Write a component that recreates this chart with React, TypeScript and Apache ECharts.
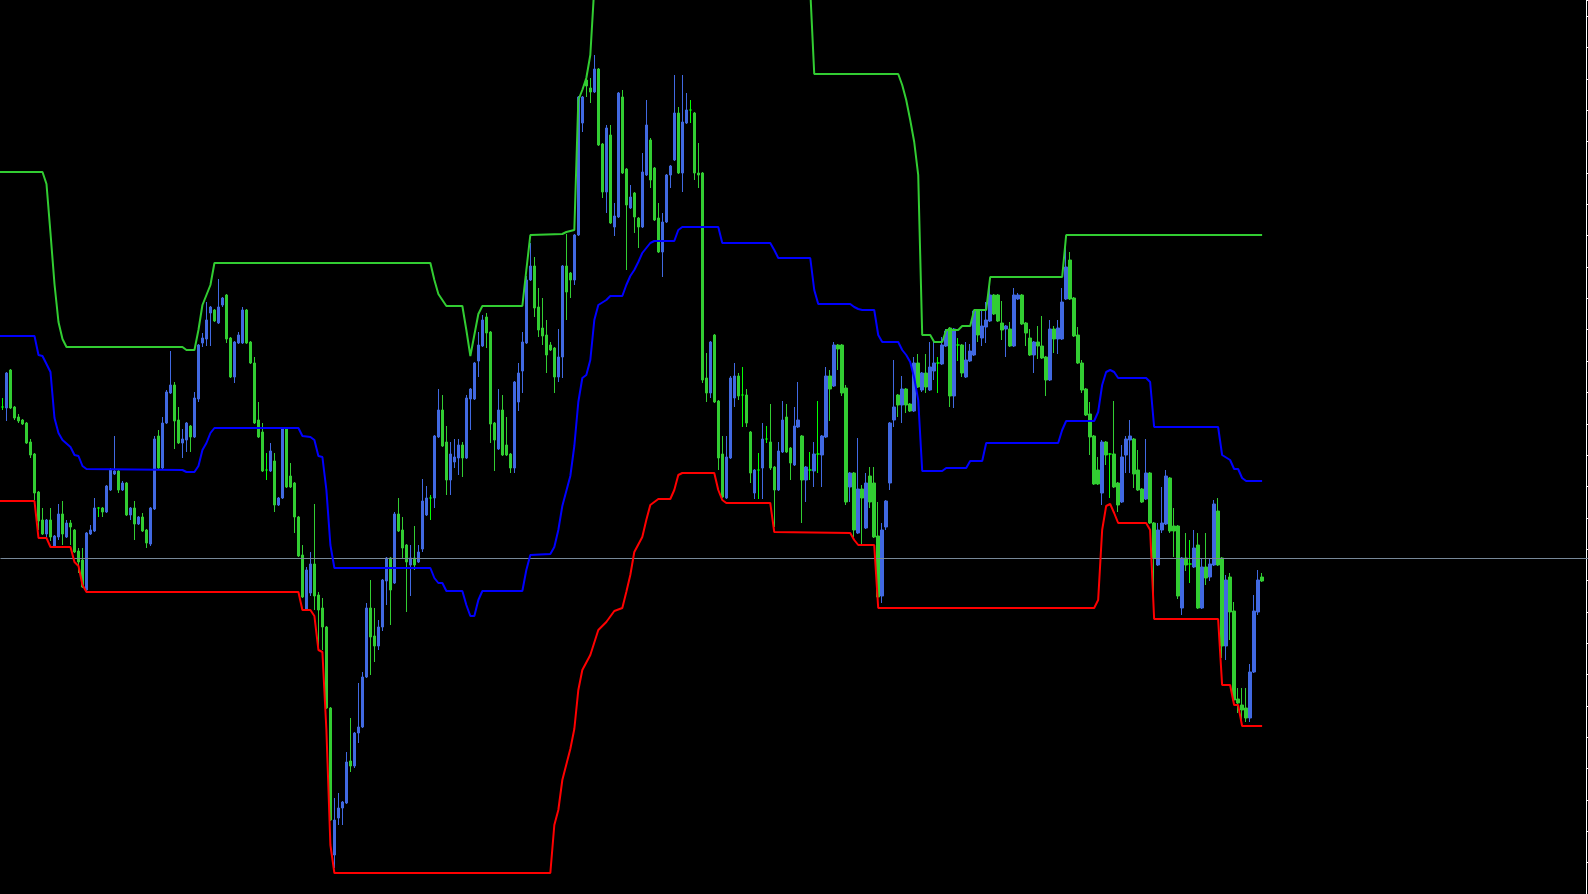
import React, { useEffect, useRef } from "react";
import * as echarts from "echarts";

// Bar prices (points above chart bottom), bar 0..315
const opens = [
  487, 486, 524, 487, 477, 474, 471, 452, 440, 402,
  374, 360, 374, 348, 357, 380, 357, 371, 364, 343,
  334, 304, 360, 363, 386, 386, 382, 404, 420, 423,
  404, 411, 379, 386, 370, 377, 364, 350, 385, 458,
  426, 471, 501, 509, 474, 451, 454, 468, 457, 495,
  551, 555, 581, 584, 571, 589, 599, 556, 517, 551,
  551, 584, 552, 531, 474, 462, 424, 423, 433, 389,
  396, 465, 418, 411, 377, 339, 284, 301, 330, 299,
  286, 267, 186, 39, 76, 86, 91, 133, 128, 161,
  167, 217, 286, 258, 248, 267, 313, 336, 311, 380,
  364, 349, 329, 336, 332, 345, 379, 396, 396, 457,
  484, 452, 414, 432, 436, 449, 436, 495, 495, 533,
  548, 577, 562, 471, 445, 484, 449, 440, 426, 492,
  523, 551, 614, 628, 587, 566, 559, 549, 546, 517,
  537, 628, 621, 614, 659, 771, 814, 806, 802, 825,
  750, 702, 759, 667, 677, 797, 725, 686, 701, 676,
  667, 719, 754, 726, 676, 642, 672, 719, 734, 781,
  721, 771, 784, 781, 721, 721, 516, 501, 559, 493,
  440, 396, 436, 496, 518, 499, 499, 462, 401, 424,
  426, 455, 452, 427, 404, 442, 477, 446, 429, 467,
  458, 414, 424, 423, 440, 439, 457, 518, 508, 549,
  549, 506, 407, 421, 361, 405, 366, 418, 411, 358,
  298, 367, 411, 474, 499, 489, 505, 490, 483, 531,
  504, 521, 504, 523, 531, 530, 548, 566, 498, 549,
  549, 517, 533, 539, 583, 556, 567, 573, 599, 599,
  571, 565, 565, 548, 595, 599, 571, 556, 539, 552,
  548, 537, 514, 565, 555, 555, 595, 634, 596, 559,
  531, 505, 480, 458, 424, 401, 452, 440, 440, 411,
  392, 439, 454, 455, 424, 405, 395, 421, 371, 329,
  364, 370, 416, 368, 368, 286, 336, 330, 327, 349,
  286, 327, 317, 329, 383, 336, 248, 317, 283, 195,
  189, 186, 176, 222, 282, 317,
];

const closes = [
  487, 521, 486, 476, 473, 470, 451, 439, 401, 373,
  360, 374, 357, 358, 380, 360, 371, 367, 342, 332,
  307, 361, 364, 386, 386, 382, 408, 424, 423, 404,
  411, 379, 386, 370, 377, 363, 351, 386, 455, 426,
  471, 502, 509, 473, 451, 455, 471, 457, 496, 549,
  556, 574, 587, 573, 587, 596, 555, 517, 552, 559,
  584, 551, 531, 471, 457, 423, 424, 443, 389, 396,
  465, 407, 407, 377, 338, 297, 324, 330, 298, 284,
  267, 186, 74, 74, 86, 92, 132, 128, 161, 167,
  217, 286, 257, 248, 267, 314, 336, 304, 380, 363,
  346, 332, 336, 329, 342, 393, 396, 396, 458, 484,
  448, 414, 440, 437, 449, 436, 496, 505, 531, 549,
  574, 561, 470, 454, 484, 439, 439, 426, 512, 521,
  552, 614, 628, 586, 564, 558, 539, 544, 517, 537,
  628, 602, 614, 659, 797, 797, 808, 802, 825, 749,
  702, 766, 671, 678, 801, 721, 689, 697, 677, 667,
  722, 769, 714, 674, 642, 672, 719, 728, 781, 721,
  772, 784, 784, 721, 719, 514, 501, 552, 492, 436,
  397, 437, 516, 518, 498, 499, 471, 421, 424, 424,
  455, 455, 426, 404, 443, 474, 442, 431, 468, 474,
  414, 427, 424, 440, 440, 458, 518, 505, 549, 545,
  501, 392, 421, 364, 405, 396, 411, 392, 357, 297,
  364, 393, 471, 487, 489, 505, 489, 483, 531, 507,
  521, 507, 527, 531, 531, 549, 563, 498, 565, 549,
  521, 534, 543, 583, 559, 568, 574, 599, 580, 573,
  564, 568, 548, 599, 599, 570, 561, 539, 552, 548,
  536, 514, 565, 555, 566, 592, 627, 595, 558, 531,
  504, 479, 457, 410, 410, 452, 439, 440, 407, 389,
  437, 455, 458, 420, 404, 392, 421, 371, 336, 364,
  371, 418, 363, 363, 298, 336, 329, 330, 346, 286,
  327, 316, 330, 390, 329, 248, 314, 282, 194, 191,
  184, 176, 222, 283, 314, 313,
];

const lows = [
  484, 473, 485, 474, 471, 469, 450, 436, 394, 364,
  359, 357, 353, 347, 354, 349, 356, 349, 341, 321,
  306, 303, 359, 362, 377, 377, 381, 403, 419, 401,
  403, 378, 374, 354, 369, 362, 346, 348, 384, 425,
  425, 470, 500, 445, 450, 436, 442, 442, 456, 492,
  547, 548, 548, 572, 570, 587, 551, 516, 511, 550,
  550, 550, 530, 470, 456, 422, 414, 422, 382, 388,
  395, 406, 406, 361, 337, 296, 283, 298, 284, 247,
  244, 185, 73, 26, 69, 69, 90, 122, 126, 151,
  166, 216, 219, 232, 244, 263, 289, 269, 310, 362,
  336, 282, 298, 324, 331, 342, 378, 374, 386, 456,
  447, 399, 399, 426, 419, 417, 435, 464, 494, 517,
  547, 546, 451, 423, 444, 438, 438, 421, 421, 483,
  501, 550, 613, 577, 557, 549, 521, 543, 501, 512,
  516, 574, 596, 609, 658, 762, 797, 791, 801, 748,
  696, 681, 670, 658, 676, 720, 624, 685, 661, 646,
  666, 718, 706, 673, 641, 617, 671, 706, 733, 720,
  702, 770, 771, 714, 706, 511, 492, 496, 491, 424,
  396, 395, 435, 487, 494, 467, 467, 411, 395, 395,
  395, 451, 424, 367, 403, 441, 441, 414, 428, 466,
  371, 392, 414, 407, 421, 407, 456, 473, 507, 524,
  498, 389, 392, 357, 360, 349, 365, 386, 356, 296,
  291, 364, 404, 467, 477, 471, 481, 482, 482, 506,
  502, 501, 503, 514, 501, 529, 547, 487, 486, 533,
  517, 516, 532, 538, 552, 548, 551, 572, 579, 572,
  554, 537, 547, 547, 594, 569, 548, 538, 521, 535,
  535, 498, 513, 541, 540, 554, 594, 594, 557, 530,
  501, 478, 439, 409, 409, 389, 429, 396, 406, 382,
  391, 421, 421, 406, 403, 391, 394, 370, 298, 328,
  361, 369, 361, 337, 295, 279, 323, 311, 326, 285,
  285, 309, 313, 328, 328, 236, 234, 254, 193, 181,
  172, 172, 172, 221, 279, 312,
];

const highs = [
  496, 522, 525, 488, 480, 475, 472, 455, 441, 403,
  386, 375, 386, 359, 390, 393, 374, 374, 365, 346,
  346, 362, 369, 396, 387, 387, 409, 426, 458, 424,
  413, 412, 387, 393, 378, 381, 365, 387, 458, 464,
  477, 504, 543, 512, 487, 465, 472, 469, 502, 550,
  561, 592, 588, 585, 615, 597, 600, 557, 553, 562,
  587, 585, 553, 537, 492, 471, 441, 451, 441, 397,
  466, 466, 431, 412, 378, 349, 327, 342, 390, 302,
  296, 268, 187, 96, 101, 93, 142, 176, 162, 211,
  222, 291, 314, 286, 274, 315, 337, 337, 382, 396,
  377, 350, 349, 368, 349, 415, 408, 399, 459, 505,
  499, 468, 452, 455, 455, 452, 499, 506, 532, 562,
  579, 581, 563, 472, 505, 499, 477, 441, 513, 531,
  562, 618, 651, 637, 606, 596, 574, 552, 547, 565,
  629, 660, 622, 660, 798, 798, 817, 816, 839, 826,
  751, 769, 769, 691, 802, 804, 726, 709, 702, 677,
  741, 794, 756, 727, 691, 681, 720, 729, 819, 787,
  819, 801, 794, 782, 751, 722, 541, 553, 560, 494,
  458, 458, 518, 531, 521, 527, 505, 463, 425, 441,
  471, 468, 490, 428, 452, 493, 490, 447, 487, 512,
  459, 428, 442, 452, 493, 459, 527, 524, 552, 550,
  550, 509, 422, 422, 456, 409, 421, 427, 427, 392,
  371, 394, 472, 534, 500, 518, 506, 491, 537, 540,
  522, 540, 552, 552, 537, 557, 565, 567, 566, 556,
  550, 552, 550, 584, 584, 583, 592, 609, 600, 600,
  593, 569, 572, 606, 601, 600, 572, 565, 553, 568,
  578, 538, 574, 568, 574, 606, 649, 642, 597, 567,
  534, 506, 492, 459, 437, 454, 453, 441, 493, 412,
  449, 458, 474, 456, 444, 406, 455, 422, 372, 371,
  407, 424, 417, 386, 369, 337, 361, 354, 364, 361,
  336, 361, 336, 394, 396, 337, 319, 321, 292, 206,
  206, 206, 230, 299, 324, 321,
];

// Channel lines: [bar index, price] at each turning point (index -1 = bar just off the left edge)
const upperBand = [
  [-1, 722], [0, 722], [10, 722], [11, 710], [12, 661], [13, 610], [14, 572], [15, 555], [16, 547],
  [45, 547], [46, 544], [48, 544], [49, 564], [50, 589], [51, 599], [52, 609], [53, 631],
  [107, 631], [108, 614], [109, 600], [110, 594], [111, 588], [115, 588], [116, 564],
  [117, 538], [118, 559], [119, 580], [120, 588], [130, 588], [131, 624], [132, 659],
  [140, 660], [141, 662], [143, 664], [144, 794], [145, 804], [146, 816], [147, 839],
  [148, 907], [150, 914], [160, 924], [170, 914], [180, 904], [190, 909], [202, 904],
  [203, 820], [224, 820], [225, 809], [226, 794], [227, 774], [228, 752], [229, 719],
  [230, 559], [232, 559], [233, 552], [235, 552], [236, 564], [239, 564], [240, 568],
  [242, 568], [243, 584], [246, 584], [247, 617], [265, 617], [266, 659], [315, 659],
];

const middleBand = [
  [-1, 558], [0, 558], [8, 558], [9, 539], [10, 538], [11, 530], [12, 522], [13, 476], [14, 461],
  [15, 454], [17, 447], [18, 439], [19, 438], [20, 428], [21, 425], [45, 424], [46, 422],
  [48, 422], [49, 428], [50, 444], [51, 451], [52, 461], [53, 466], [74, 466], [75, 458],
  [77, 457], [78, 454], [79, 438], [80, 437], [81, 404], [82, 349], [83, 326], [107, 326],
  [108, 316], [109, 311], [110, 311], [111, 303], [115, 303], [116, 289], [117, 278],
  [118, 278], [119, 294], [120, 303], [130, 303], [131, 324], [132, 339], [137, 340],
  [138, 347], [139, 364], [140, 388], [142, 418], [143, 448], [144, 492], [145, 516],
  [146, 519], [147, 534], [148, 574], [149, 589], [151, 594], [152, 598], [155, 598],
  [156, 609], [157, 618], [158, 624], [159, 632], [160, 641], [161, 646], [162, 651],
  [163, 653], [168, 653], [169, 664], [170, 667], [179, 667], [180, 651], [192, 651],
  [193, 644], [194, 636], [202, 636], [203, 604], [204, 590], [212, 590], [213, 587],
  [214, 585], [215, 584], [218, 584], [219, 559], [220, 552], [224, 552], [225, 544],
  [226, 539], [227, 532], [228, 516], [229, 494], [230, 423], [235, 423], [236, 426],
  [241, 426], [242, 433], [245, 433], [246, 451], [264, 451], [265, 464], [266, 473],
  [273, 473], [274, 482], [275, 509], [276, 522], [277, 524], [278, 522], [279, 516],
  [286, 516], [287, 512], [288, 467], [304, 467], [305, 439], [307, 434], [308, 425],
  [309, 425], [310, 416], [311, 413], [315, 413],
];

const lowerBand = [
  [-1, 393], [0, 393], [8, 393], [9, 356], [11, 356], [12, 347], [17, 347], [18, 332], [19, 328],
  [20, 309], [21, 302], [74, 302], [75, 284], [77, 284], [78, 278], [79, 244], [80, 242],
  [81, 164], [82, 49], [83, 21], [137, 21], [138, 69], [139, 84], [140, 114], [142, 145],
  [143, 165], [144, 204], [145, 224], [147, 239], [149, 264], [151, 272], [153, 283],
  [155, 286], [156, 302], [157, 319], [158, 342], [160, 357], [161, 374], [162, 389],
  [164, 395], [167, 395], [168, 404], [169, 419], [170, 421], [178, 421], [179, 404],
  [180, 394], [181, 391], [192, 391], [193, 362], [212, 361], [213, 354], [214, 349],
  [218, 349], [219, 286], [273, 286], [274, 294], [275, 364], [276, 388], [277, 390],
  [278, 381], [279, 371], [286, 371], [287, 364], [288, 275], [304, 275], [305, 209],
  [307, 209], [308, 189], [309, 189], [310, 168], [315, 168],
];

const bidPrice = 335.5;
const slotCount = 397; // bar slots across the window (incl. empty right margin)
const priceMin = 0;
const priceMax = 894;
const priceStep = 31.35;

export default function App() {
  const ref = useRef<HTMLDivElement>(null);

  useEffect(() => {
    document.body.style.margin = "0";
    document.body.style.background = "#000000";
    const el = ref.current;
    if (!el) return;
    const chart = echarts.init(el, null, { renderer: "svg" });
    const categories = Array.from({ length: slotCount }, (_, i) => String(i));
    const candles = opens.map((o, i) => [o, closes[i], lows[i], highs[i]]);

    const bandLine = (name: string, data: number[][], color: string) => ({
      name,
      type: "line",
      data,
      showSymbol: false,
      symbol: "none",
      silent: true,
      z: 5,
      clip: true,
      lineStyle: { color, width: 2 },
    });

    chart.setOption({
      animation: false,
      backgroundColor: "#000000",
      grid: { left: 0.5, top: 0, width: 1588, height: 894, containLabel: false },
      xAxis: {
        type: "category",
        data: categories,
        boundaryGap: true,
        show: false,
      },
      yAxis: {
        type: "value",
        position: "right",
        offset: -2,
        min: priceMin,
        max: priceMax,
        interval: priceStep,
        splitLine: { show: false },
        axisLabel: { show: false },
        axisLine: { show: true, lineStyle: { color: "#ffffff", width: 1 } },
        axisTick: { show: true, inside: false, length: 3, lineStyle: { color: "#ffffff", width: 1 } },
      },
      series: [
        {
          name: "Price",
          type: "candlestick",
          data: candles,
          barWidth: 3,
          silent: true,
          z: 2,
          itemStyle: {
            color: "#4169E1",
            color0: "#32CD32",
            borderColor: "#4169E1",
            borderColor0: "#32CD32",
            borderColorDoji: "#00FF00",
            borderWidth: 1,
          },
          markLine: {
            silent: true,
            symbol: ["none", "none"],
            label: { show: false },
            lineStyle: { color: "#778899", width: 1, type: "solid" },
            data: [{ yAxis: bidPrice }],
          },
        },
        bandLine("Upper", upperBand, "#32CD32"),
        bandLine("Lower", lowerBand, "#FF0000"),
        bandLine("Middle", middleBand, "#0000FF"),
      ],
    });

    return () => {
      chart.dispose();
    };
  }, []);

  return <div ref={ref} style={{ width: 1588, height: 894 }} />;
}
